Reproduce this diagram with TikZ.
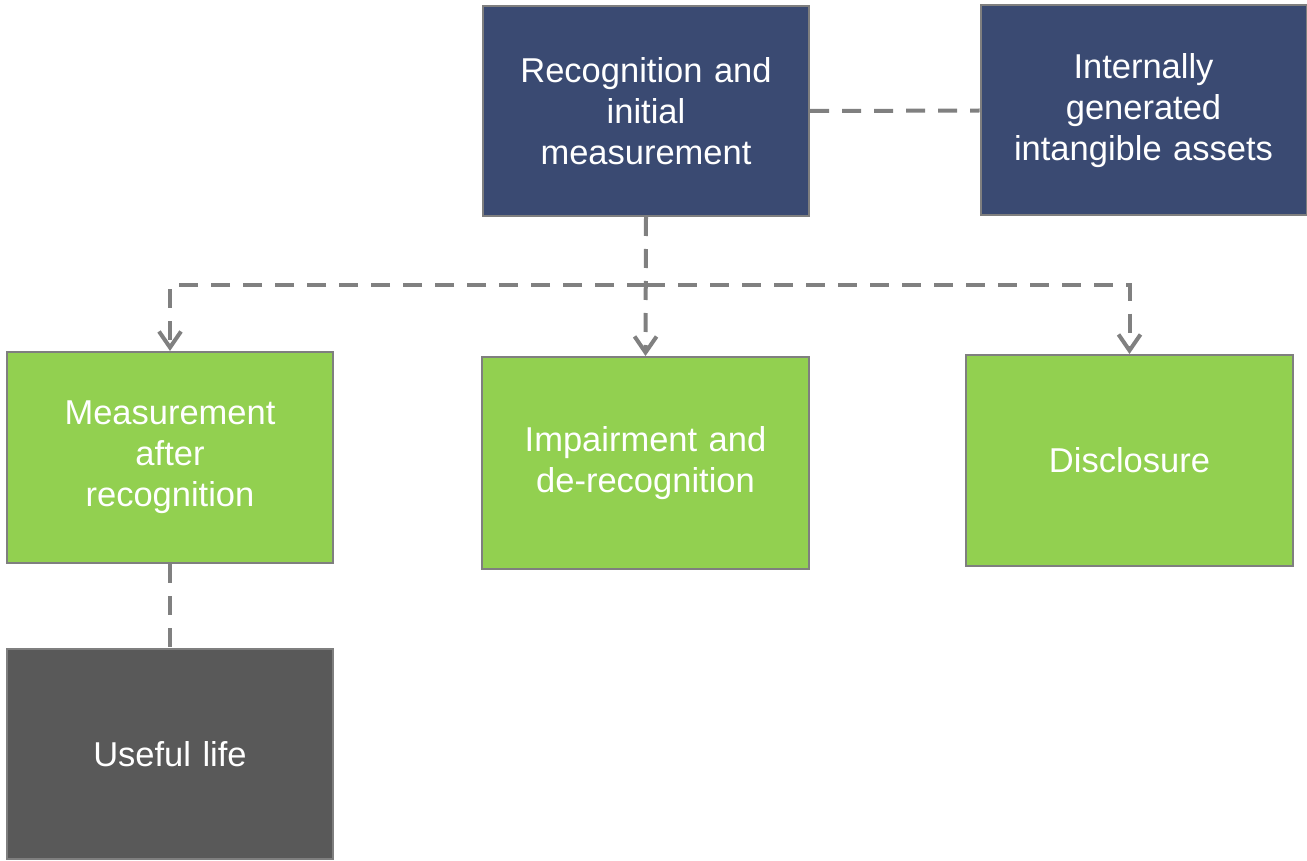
\documentclass[tikz,border=0pt]{standalone}
\usepackage{fontspec}
\setmainfont{Liberation Sans}
\usetikzlibrary{arrows.meta}
\definecolor{navy}{HTML}{3A4A72}
\definecolor{lgreen}{HTML}{92D050}
\definecolor{dgray}{HTML}{595959}
\definecolor{bord}{HTML}{7F7F7F}
\definecolor{conncol}{HTML}{808080}
\tikzset{
  box/.style={draw=bord, line width=2pt, rectangle, inner sep=0pt,
    minimum width=326pt, minimum height=210pt, text=white, align=center,
    text width=310pt, font=\fontsize{34.5}{41}\selectfont},
  navybox/.style={box, fill=navy},
  greenbox/.style={box, fill=lgreen},
  graybox/.style={box, fill=dgray},
  conn/.style={draw=conncol, line width=4pt, dash pattern=on 19pt off 13pt},
  arr/.style={conn, -{Straight Barb[length=16pt,width=22pt,line width=4pt]}}
}
\begin{document}
\begin{tikzpicture}[x=1pt,y=-1pt]
\useasboundingbox (0,0) rectangle (1307,861);
\node[navybox] (rec) at (646,111) {Recognition and\\initial\\measurement};
\node[navybox] (int) at (1143.5,110.5) {Internally\\generated\\intangible assets};
\node[greenbox, minimum height=211pt] (meas) at (170,457.5) {Measurement\\after\\recognition};
\node[greenbox, minimum width=327pt, minimum height=212pt] (imp) at (645.5,463) {Impairment and\\de-recognition};
\node[greenbox, minimum width=327pt, minimum height=211pt] (disc) at (1129.5,460.5) {Disclosure};
\node[graybox] (use) at (170,754) {Useful life};
\coordinate (hub) at (646,285);
\draw[conn] (rec.east) -- (int.west);
\draw[arr] (rec.south) -- (imp.north);
\draw[arr] (hub) -| (meas.north);
\draw[arr] (hub) -| (disc.north);
\draw[conn] (meas.south) -- (use.north);
\end{tikzpicture}
\end{document}
